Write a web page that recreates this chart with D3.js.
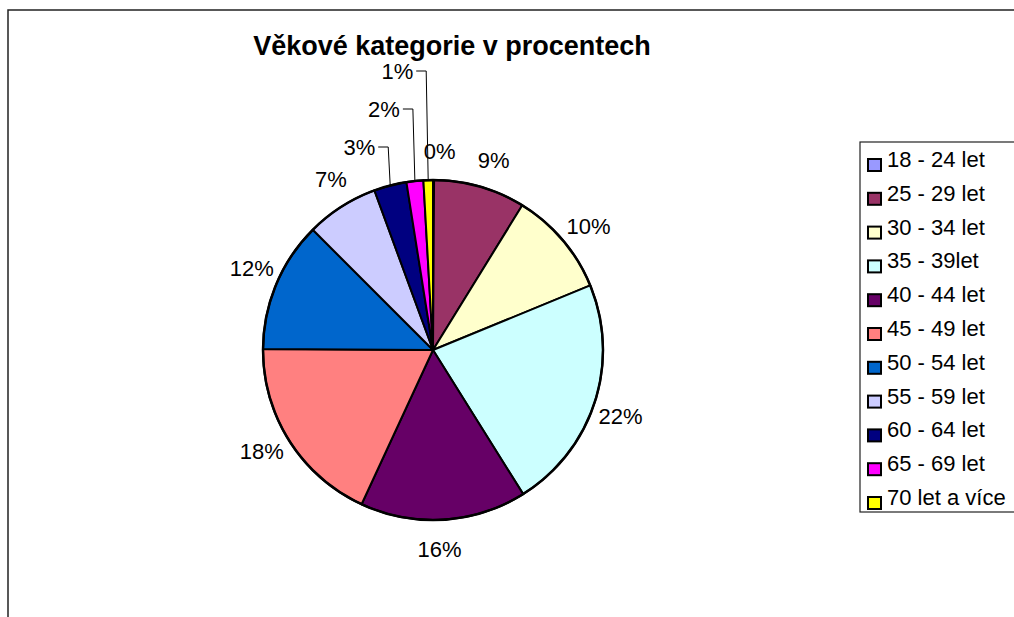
<!DOCTYPE html>
<html lang="cs">
<head>
    <meta charset="utf-8">
    <title>Věkové kategorie v procentech</title>
    <script src="https://cdn.jsdelivr.net/npm/d3@7"></script>
    <style>
        body { margin: 0; background: #fff; }
        svg { display: block; font-family: "Liberation Sans", Arial, sans-serif; }
    </style>
</head>
<body>
<script>
    // data (percent shares)
    const categories = ["18 - 24 let", "25 - 29 let", "30 - 34 let", "35 - 39let", "40 - 44 let",
        "45 - 49 let", "50 - 54 let", "55 - 59 let", "60 - 64 let", "65 - 69 let", "70 let a více"];
    const shares = [0.1, 8.7, 10.0, 22.3, 15.8, 18.2, 12.4, 6.9, 3.1, 1.6, 0.9];
    const colors = ["#9999FF", "#993366", "#FFFFCC", "#CCFFFF", "#660066",
        "#FF8080", "#0066CC", "#CCCCFF", "#000080", "#FF00FF", "#FFFF00"];
    const chartTitle = "Věkové kategorie v procentech";

    // slices whose labels are stacked above the pie with leader lines
    const leadered = [8, 9, 10];

    const W = 1014, H = 617;
    const cx = 433, cy = 350, R = 170;

    const svg = d3.select("body").append("svg")
        .attr("width", W)
        .attr("height", H);

    // chart area frame (only top and left visible)
    svg.append("path")
        .attr("d", `M8,${H} V10 H${W}`)
        .attr("fill", "none")
        .attr("stroke", "#222")
        .attr("stroke-width", 1.5);

    svg.append("text")
        .attr("x", 452)
        .attr("y", 55)
        .attr("text-anchor", "middle")
        .style("font-size", "27px")
        .style("font-weight", "bold")
        .text(chartTitle);

    const total = d3.sum(shares);
    const pct = d3.format(".0%");

    const pie = d3.pie().sort(null).value(d => d);
    const arcs = pie(shares);
    const arc = d3.arc().innerRadius(0).outerRadius(R);

    const g = svg.append("g").attr("transform", `translate(${cx},${cy})`);

    g.selectAll("path.slice")
        .data(arcs)
        .join("path")
        .attr("class", "slice")
        .attr("d", arc)
        .attr("fill", (d, i) => colors[i])
        .attr("stroke", "#000")
        .attr("stroke-width", 2)
        .attr("stroke-linejoin", "round");

    g.append("circle")
        .attr("r", R)
        .attr("fill", "none")
        .attr("stroke", "#000")
        .attr("stroke-width", 2.5);

    const midA = d => (d.startAngle + d.endAngle) / 2;
    const labelText = d => pct(d.value / total);

    // ordinary labels around the pie
    const labelR = 199;
    g.selectAll("text.plabel")
        .data(arcs.filter((d, i) => !leadered.includes(i)))
        .join("text")
        .attr("class", "plabel")
        .attr("x", d => labelR * Math.sin(midA(d) + 0.03))
        .attr("y", d => -labelR * Math.cos(midA(d) + 0.03))
        .attr("dy", "0.35em")
        .attr("text-anchor", "middle")
        .style("font-size", "22px")
        .text(labelText);

    // stacked labels with leader lines
    leadered.forEach((idx, k) => {
        const d = arcs[idx];
        const a = midA(d);
        const px = R * Math.sin(a), py = -R * Math.cos(a);
        const ly = -(R + 33 + k * 38);
        const ex = px - 2;
        g.append("path")
            .attr("d", `M${px},${py} L${ex},${ly} H${ex - 10}`)
            .attr("fill", "none")
            .attr("stroke", "#000")
            .attr("stroke-width", 1);
        g.append("text")
            .attr("x", ex - 13)
            .attr("y", ly)
            .attr("dy", "0.35em")
            .attr("text-anchor", "end")
            .style("font-size", "22px")
            .text(labelText(d));
    });

    // legend
    const legX = 860, legY = 142, legH = 370, rowH = 33.8;
    svg.append("rect")
        .attr("x", legX)
        .attr("y", legY)
        .attr("width", 200)
        .attr("height", legH)
        .attr("fill", "#fff")
        .attr("stroke", "#222")
        .attr("stroke-width", 1.2);

    const rows = svg.selectAll("g.leg")
        .data(categories)
        .join("g")
        .attr("class", "leg")
        .attr("transform", (d, i) => `translate(${legX},${legY + 18 + i * rowH})`);

    rows.append("rect")
        .attr("x", 8)
        .attr("y", -1)
        .attr("width", 13)
        .attr("height", 12)
        .attr("fill", (d, i) => colors[i])
        .attr("stroke", "#000")
        .attr("stroke-width", 2);

    rows.append("text")
        .attr("x", 27)
        .attr("y", 7)
        .style("font-size", "22px")
        .text(d => d);
</script>
</body>
</html>
